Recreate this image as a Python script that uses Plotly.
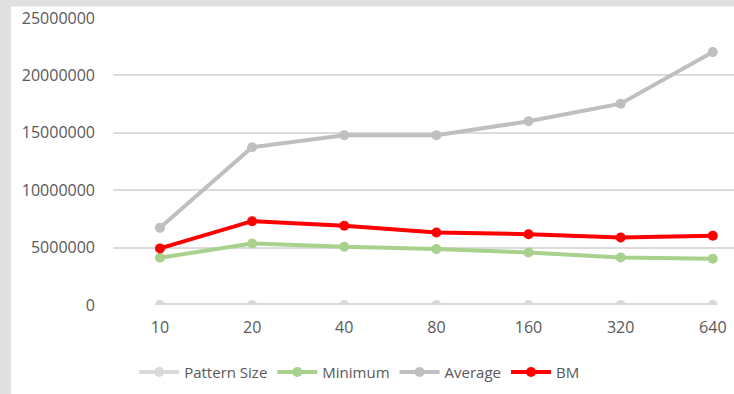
import plotly.graph_objects as go

categories = ["10", "20", "40", "80", "160", "320", "640"]
pattern_size = [10, 20, 40, 80, 160, 320, 640]
minimum = [4120000, 5360000, 5070000, 4870000, 4580000, 4140000, 4030000]
average = [6720000, 13740000, 14780000, 14780000, 16000000, 17540000, 22030000]
bm = [4930000, 7300000, 6900000, 6320000, 6170000, 5880000, 6030000]

FONT = "Open Sans"
TXT = "#595959"

fig = go.Figure()
series = [
    ("Pattern Size", pattern_size, "#d9d9d9"),
    ("Minimum", minimum, "#a9d18e"),
    ("Average", average, "#bfbfbf"),
    ("BM", bm, "#ff0000"),
]
for name, vals, col in series:
    fig.add_trace(go.Scatter(
        x=list(range(len(categories))), y=vals, name=name, mode="lines+markers",
        line=dict(color=col, width=4), marker=dict(color=col, size=10),
    ))

W, H = 734, 394
L, R, T, B = 113, 0, 17.5, 89
pw, ph = W - L - R, H - T - B

fig.add_shape(type="rect", xref="paper", yref="paper",
              x0=(11 - L) / pw, x1=1.05, y0=-(B + 5) / ph, y1=(H - B - 6) / ph,
              fillcolor="white", line=dict(width=0), layer="below")

fig.update_layout(
    width=W, height=H,
    margin=dict(l=L, r=R, t=T, b=B, pad=0),
    paper_bgcolor="#e0e0e0", plot_bgcolor="rgba(0,0,0,0)",
    font=dict(family=FONT, size=15, color=TXT),
    showlegend=True,
    legend=dict(orientation="h", xref="container", x=0.49, xanchor="center",
                yref="container", y=0.055, yanchor="middle",
                font=dict(family=FONT, size=15, color=TXT),
                bgcolor="rgba(0,0,0,0)", itemwidth=40, tracegroupgap=0),
    xaxis=dict(range=[-0.51, 6.23], tickvals=list(range(len(categories))),
               ticktext=categories, showgrid=False, zeroline=False, showline=False,
               ticks="", ticklabelstandoff=11, fixedrange=True,
               tickfont=dict(family=FONT, size=16, color=TXT)),
    yaxis=dict(range=[0, 25000000], tickvals=[0, 5000000, 10000000, 15000000, 20000000, 25000000],
               ticktext=["0", "5000000", "10000000", "15000000", "20000000", "25000000"],
               showgrid=True, gridcolor="#dcdcdc", gridwidth=1.5, zeroline=False,
               showline=False, ticks="", ticklabelstandoff=17,
               tickfont=dict(family=FONT, size=16, color=TXT)),
)
fig.write_html("out.html")
